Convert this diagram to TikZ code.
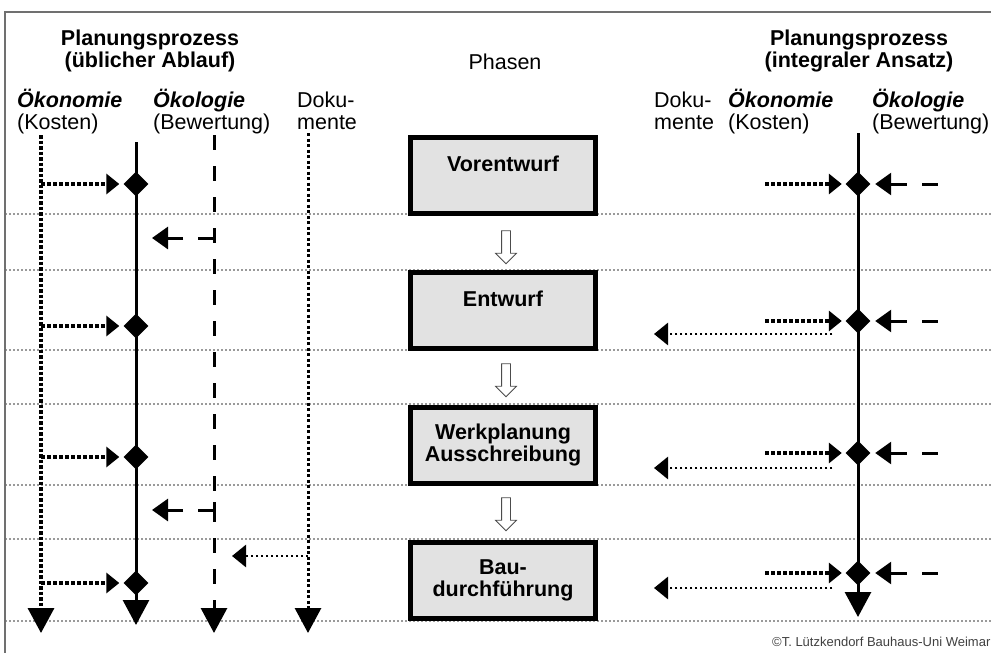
\documentclass[tikz,border=0pt]{standalone}
\usepackage{fontspec}
\setmainfont{Liberation Sans}
\usepackage{xcolor}
\definecolor{boxgray}{HTML}{E2E2E2}
\definecolor{gridgray}{HTML}{9A9A9A}
\definecolor{framegray}{HTML}{707070}
\usetikzlibrary{arrows.meta,positioning,shapes.geometric,shapes.arrows}

\begin{document}
\begin{tikzpicture}[
    x=1pt, y=-1pt,
    every node/.style={inner sep=0pt, font=\fontsize{21.5}{22}\selectfont},
    head_text/.style={align=center, font=\fontsize{21.5}{22}\selectfont\bfseries},
    col_text/.style={anchor=base west, align=left},
    phase_box/.style={draw=black, fill=boxgray, line width=5pt, minimum width=185pt, minimum height=76pt, align=center, font=\fontsize{21.5}{22}\selectfont\bfseries},
    step_arrow/.style={single arrow, draw=black!70, fill=white, line width=0.8pt, shape border rotate=270, minimum height=33pt, minimum width=20pt, single arrow head extend=6pt, inner sep=4pt},
    stage_mark/.style={diamond, fill=black, minimum width=25pt, minimum height=25pt},
    grid_line/.style={draw=gridgray, line width=1.6pt, dash pattern=on 2pt off 2pt},
    frame_line/.style={draw=framegray, line width=2.5pt},
    main_line/.style={line width=3pt, -{Triangle[length=25pt,width=26pt]}},
    cost_line/.style={line width=3.5pt, dash pattern=on 3.5pt off 2pt, -{Triangle[length=25pt,width=26pt]}},
    eco_line/.style={line width=3pt, dash pattern=on 15pt off 16pt, -{Triangle[length=25pt,width=26pt]}},
    doc_line/.style={line width=3pt, dash pattern=on 3pt off 2.5pt, -{Triangle[length=25pt,width=26pt]}},
    cost_flow/.style={line width=3.5pt, dash pattern=on 3.5pt off 2.5pt, -{Triangle[length=13pt,width=20pt]}},
    doc_flow/.style={line width=2.8pt, dash pattern=on 2.5pt off 2.5pt, -{Triangle[length=14pt,width=22pt]}},
    eco_flow/.style={line width=3pt, dash pattern=on 24pt off 15pt on 60pt, -{Triangle[length=16pt,width=22pt]}},
    eco_flow_r/.style={line width=3pt, dash pattern=on 16pt off 15pt on 60pt, -{Triangle[length=16pt,width=22pt]}}
]
  \useasboundingbox (0,0) rectangle (991,653);

  % frame and phase separators
  \foreach \y in {214,270,350,404,485,539,621}
    \draw[grid_line] (5,\y) -- (991,\y);
  \draw[frame_line] (5,653) -- (5,12) -- (991,12);

  % headings
  \node[head_text] (usual) at (150,51) {Planungsprozess\\(üblicher Ablauf)};
  \node (phasen) at (505,62) {Phasen};
  \node[head_text] (integral) at (859,51) {Planungsprozess\\(integraler Ansatz)};

  \node[col_text] (cost_l_lbl) at (17,129) {\textbf{\textit{Ökonomie}}\\(Kosten)};
  \node[col_text] (eco_l_lbl) at (153,129) {\textbf{\textit{Ökologie}}\\(Bewertung)};
  \node[col_text] (doc_l_lbl) at (297,129) {Doku-\\mente};
  \node[col_text] (doc_r_lbl) at (654,129) {Doku-\\mente};
  \node[col_text] (cost_r_lbl) at (728,129) {\textbf{\textit{Ökonomie}}\\(Kosten)};
  \node[col_text] (eco_r_lbl) at (872,129) {\textbf{\textit{Ökologie}}\\(Bewertung)};

  % phases
  \node[phase_box] (vorentwurf) at (503,175) {Vorentwurf\\\mbox{}};
  \node[phase_box] (entwurf) at (503,310) {Entwurf\\\mbox{}};
  \node[phase_box] (werkplanung) at (503,445) {Werkplanung\\Ausschreibung};
  \node[phase_box] (ausfuehrung) at (503,580) {Bau-\\durchführung};

  \node[step_arrow] (step1) at (506,245) {};
  \node[step_arrow] (step2) at (506,378) {};
  \node[step_arrow] (step3) at (506,512) {};

  % usual process: separate columns
  \coordinate (cost_l) at (41,135);
  \coordinate (cost_l_end) at (41,633);
  \coordinate (main_l) at (136,142);
  \coordinate (main_l_end) at (136,625);
  \coordinate (eco_l) at (214,135);
  \coordinate (eco_l_end) at (214,633);
  \coordinate (doc_l) at (308,133);
  \coordinate (doc_l_end) at (308,633);

  \draw[cost_line] (cost_l) -- (cost_l_end);
  \draw[main_line] (main_l) -- (main_l_end);
  \draw[eco_line] (eco_l) -- (eco_l_end);
  \draw[doc_line] (doc_l) -- (doc_l_end);

  \foreach \i/\y in {1/184,2/326,3/457,4/583} {
    \node[stage_mark] (lmark\i) at (136,\y) {};
    \draw[cost_flow, shorten >=4pt] (cost_l |- lmark\i) -- (lmark\i.west);
  }

  \foreach \i/\y in {1/238,2/510} {
    \coordinate (eco_turn\i) at (214,\y);
    \draw[eco_flow, shorten >=16pt] ([yshift=8pt]eco_turn\i) -- (eco_turn\i) -- (eco_turn\i -| main_l);
  }

  \coordinate (doc_out) at (308,556);
  \draw[doc_flow, shorten >=18pt] (doc_out) -- (doc_out -| eco_l);

  % integral approach: one line
  \coordinate (main_r) at (858,133);
  \coordinate (main_r_end) at (858,617);
  \draw[main_line] (main_r) -- (main_r_end);

  \foreach \i/\y in {1/184,2/321,3/453,4/573} {
    \node[stage_mark] (rmark\i) at (858,\y) {};
    \draw[cost_flow, shorten >=3.5pt] ([xshift=-80pt]rmark\i.west) -- (rmark\i.west);
    \draw[eco_flow_r, shorten >=4.5pt] ([xshift=67pt]rmark\i.east) -- (rmark\i.east);
  }

  \foreach \i/\d in {2/13,3/15,4/15} {
    \coordinate (doc_in\i) at ([xshift=-13pt, yshift=-\d pt]rmark\i.west);
    \draw[doc_flow] (doc_in\i) -- (doc_in\i -| doc_r_lbl.west);
  }

  \node[anchor=base west, font=\fontsize{13}{14}\selectfont, text=black!75] (credit) at (772,646) {©T. Lützkendorf Bauhaus-Uni Weimar};

\end{tikzpicture}
\end{document}
